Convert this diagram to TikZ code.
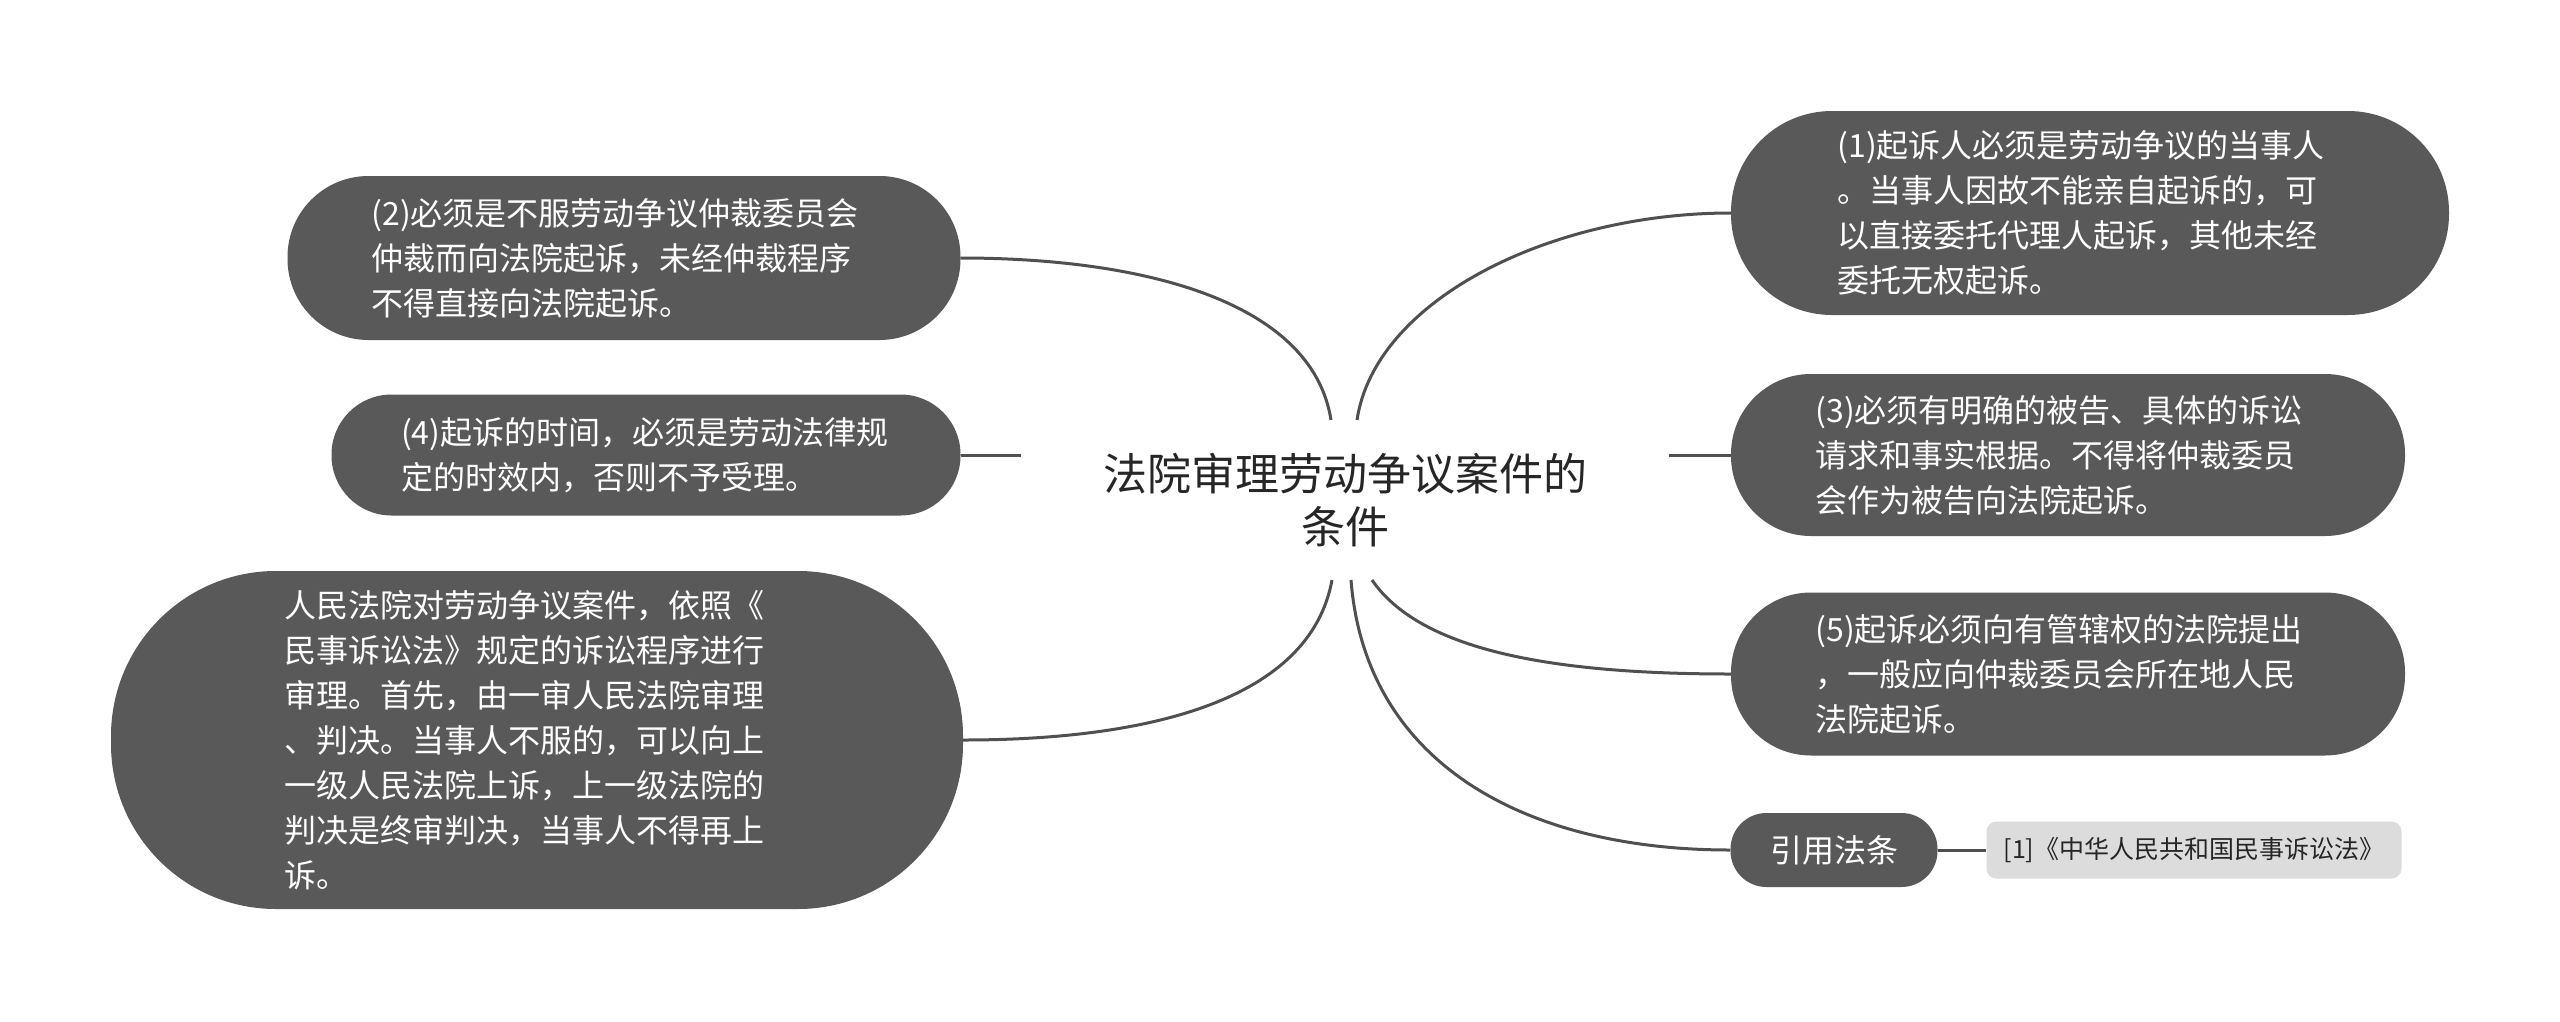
\documentclass[tikz,border=0pt]{standalone}
\usepackage{fontspec}
\newfontfamily\cjk{Noto Sans CJK SC}
\definecolor{boxgray}{HTML}{595959}
\definecolor{linegray}{HTML}{505050}
\definecolor{refgray}{HTML}{DCDCDC}
\definecolor{darktext}{HTML}{262626}
\begin{document}
\begin{tikzpicture}[x=1pt,y=-1pt,
  box/.style={fill=boxgray, text=white, font=\cjk\fontsize{32}{45}\selectfont, align=left, inner sep=0pt},
  conn/.style={draw=linegray, line width=3pt}]
\useasboundingbox[fill=white] (0,0) rectangle (2560,1021);

% center
\node[font=\cjk\fontsize{44}{53}\selectfont, text=darktext, align=center, inner sep=0pt] (c) at (1345,500) {法院审理劳动争议案件的\\条件};
\coordinate (ct1) at (1331,420);
\coordinate (ct2) at (1357,420);
\coordinate (cb1) at (1332,580);
\coordinate (cb2) at (1351,580);
\coordinate (cb3) at (1372,580);
\coordinate (cl) at (1021,455);
\coordinate (cr) at (1669,455);

% right side
\node[box, minimum width=718pt, minimum height=204pt, rounded corners=101pt, text width=505pt] (n1) at (2090,213)
{(1)起诉人必须是劳动争议的当事人\\。当事人因故不能亲自起诉的，可\\以直接委托代理人起诉，其他未经\\委托无权起诉。};
\node[box, minimum width=674pt, minimum height=162pt, rounded corners=80pt, text width=505pt] (n3) at (2068,455)
{(3)必须有明确的被告、具体的诉讼\\请求和事实根据。不得将仲裁委员\\会作为被告向法院起诉。};
\node[box, minimum width=674pt, minimum height=163pt, rounded corners=80pt, text width=505pt] (n5) at (2068,674)
{(5)起诉必须向有管辖权的法院提出\\，一般应向仲裁委员会所在地人民\\法院起诉。};
\node[box, minimum width=207pt, minimum height=74pt, rounded corners=36pt, align=center] (n7) at (1834,850) {引用法条};
\node[fill=refgray, text=darktext, font=\cjk\fontsize{25}{30}\selectfont, minimum width=415pt, minimum height=57pt, rounded corners=10pt, inner sep=0pt] (n8) at (2194,850) {[1]《中华人民共和国民事诉讼法》};

% left side
\node[box, minimum width=673pt, minimum height=164pt, rounded corners=81pt, text width=505pt] (n2) at (624,258)
{(2)必须是不服劳动争议仲裁委员会\\仲裁而向法院起诉，未经仲裁程序\\不得直接向法院起诉。};
\node[box, minimum width=629pt, minimum height=121pt, rounded corners=60pt, text width=490pt] (n4) at (646,455)
{(4)起诉的时间，必须是劳动法律规\\定的时效内，否则不予受理。};
\node[box, minimum width=852pt, minimum height=338pt, rounded corners=165pt, text width=505pt] (n6) at (537,740)
{人民法院对劳动争议案件，依照《\\民事诉讼法》规定的诉讼程序进行\\审理。首先，由一审人民法院审理\\、判决。当事人不服的，可以向上\\一级人民法院上诉，上一级法院的\\判决是终审判决，当事人不得再上\\诉。};

% connectors
\draw[conn] (ct2) .. controls (1375,300) and (1550,213) .. (n1.west);
\draw[conn] (ct1) .. controls (1312,300) and (1140,258) .. (n2.east);
\draw[conn] (n4.east) -- (cl);
\draw[conn] (cr) -- (n3.west);
\draw[conn] (cb1) .. controls (1310,700) and (1150,740) .. (n6.east);
\draw[conn] (cb3) .. controls (1420,650) and (1550,674) .. (n5.west);
\draw[conn] (cb2) .. controls (1365,760) and (1520,850) .. (n7.west);
\draw[conn] (n7.east) -- (n8.west);
\end{tikzpicture}
\end{document}
